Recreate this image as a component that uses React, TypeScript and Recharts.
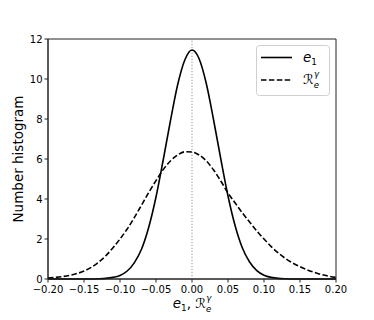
import { LineChart, Line, XAxis, YAxis, ReferenceLine, ReferenceArea, Legend } from 'recharts';

// x positions of the histogram curves
const xValues = [
  -0.2, -0.19, -0.18, -0.17, -0.16, -0.15, -0.14, -0.13, -0.12, -0.11,
  -0.1, -0.09, -0.08, -0.07, -0.06, -0.05, -0.04, -0.03, -0.02, -0.01,
  0,
  0.01, 0.02, 0.03, 0.04, 0.05, 0.06, 0.07, 0.08, 0.09, 0.1,
  0.11, 0.12, 0.13, 0.14, 0.15, 0.16, 0.17, 0.18, 0.19, 0.2,
];

// e_1 (solid)
const e1Values = [
  0, 0, 0, 0, 0, 0, 0, 0.01, 0.03, 0.08,
  0.18, 0.4, 0.82, 1.5, 2.6, 4.1, 5.95, 7.9, 9.7, 10.95,
  11.45,
  11.0, 9.75, 7.95, 6.0, 4.15, 2.65, 1.55, 0.85, 0.42, 0.19,
  0.08, 0.03, 0.01, 0, 0, 0, 0, 0, 0, 0,
];

// R_e^gamma (dashed)
const reValues = [
  0.05, 0.08, 0.12, 0.18, 0.27, 0.4, 0.58, 0.83, 1.15, 1.55,
  2.0, 2.5, 3.08, 3.7, 4.33, 4.92, 5.47, 5.9, 6.2, 6.36,
  6.35,
  6.2, 5.9, 5.45, 4.9, 4.3, 3.8, 3.3, 2.85, 2.4, 2.0,
  1.62, 1.3, 1.02, 0.8, 0.62, 0.46, 0.33, 0.22, 0.14, 0.08,
];

const xTicks = [-0.2, -0.15, -0.1, -0.05, 0, 0.05, 0.1, 0.15, 0.2];
const yTicks = [0, 2, 4, 6, 8, 10, 12];

const data = xValues.map((x, i) => ({ x, e1: e1Values[i], re: reValues[i] }));

const FONT = '"DejaVu Sans", sans-serif';
const fmtX = (v: number) => (v < 0 ? '\u2212' : '') + Math.abs(v).toFixed(2);

// e_1 and R_e^gamma written out like matplotlib mathtext
function MathE1({ size }: { size: number }) {
  return (
    <>
      <tspan fontStyle="italic">e</tspan>
      <tspan fontSize={size * 0.66} dy={3}>1</tspan>
    </>
  );
}

function MathRe({ size }: { size: number }) {
  const s = size * 0.63;
  return (
    <>
      <tspan>ℛ</tspan>
      <tspan fontStyle="italic" fontSize={s} dy={3.5}>e</tspan>
      <tspan fontStyle="italic" fontSize={s} dx={-s * 0.6} dy={-11}>γ</tspan>
    </>
  );
}

function MathLegend() {
  return (
    <svg width={75} height={52} style={{ display: 'block' }}>
      <rect x={0.5} y={0.5} width={73} height={50} rx={3} fill="#fff" fillOpacity={0.8} stroke="#d0d0d0" />
      <line x1={5} x2={36} y1={12.5} y2={12.5} stroke="#000" strokeWidth={1.6} />
      <line x1={5} x2={36} y1={35} y2={35} stroke="#000" strokeWidth={1.6} strokeDasharray="5.5 2.4" />
      <text x={47} y={17} fontFamily={FONT} fontSize={13.5} fill="#000">
        <MathE1 size={13.5} />
      </text>
      <text x={47} y={39} fontFamily={FONT} fontSize={13.5} fill="#000">
        <MathRe size={13.5} />
      </text>
    </svg>
  );
}

export default function App() {
  return (
    <div style={{ position: 'absolute', left: 0, top: 0, background: '#fff' }}>
      <LineChart width={374} height={320} data={data} margin={{ top: 39, right: 38, bottom: 0, left: 0 }}>
        <ReferenceArea x1={-0.2} x2={0.2} y1={0} y2={12} fill="none" stroke="#222" strokeWidth={1} />
        <ReferenceLine x={0} stroke="#aaa" strokeDasharray="1.2 1.8" strokeWidth={1.2} />
        <XAxis
          dataKey="x"
          type="number"
          domain={[-0.2, 0.2]}
          ticks={xTicks}
          tickFormatter={fmtX}
          interval={0}
          height={41}
          tickSize={3.5}
          tickMargin={3}
          stroke="#222"
          tick={{ fill: '#000', fontSize: 10, fontFamily: FONT }}
          label={({ viewBox }: any) => (
            <text
              x={viewBox.x + viewBox.width / 2}
              y={viewBox.y + 29}
              textAnchor="middle"
              fontFamily={FONT}
              fontSize={13.5}
              fill="#000"
            >
              <MathE1 size={13.5} />
              <tspan dy={-3}>, </tspan>
              <MathRe size={13.5} />
            </text>
          )}
        />
        <YAxis
          type="number"
          domain={[0, 12]}
          ticks={yTicks}
          interval={0}
          width={48}
          tickSize={3.5}
          tickMargin={2}
          stroke="#222"
          tick={{ fill: '#000', fontSize: 10, fontFamily: FONT }}
          label={({ viewBox }: any) => (
            <text
              transform={`translate(${viewBox.x + 17.5},${viewBox.y + viewBox.height / 2}) rotate(-90)`}
              textAnchor="middle"
              dominantBaseline="central"
              fontFamily={FONT}
              fontSize={13.5}
              fill="#000"
            >
              Number histogram
            </text>
          )}
        />
        <Line
          type="monotone"
          dataKey="e1"
          name="e1"
          stroke="#000"
          strokeWidth={1.6}
          dot={false}
          isAnimationActive={false}
        />
        <Line
          type="monotone"
          dataKey="re"
          name="Re"
          stroke="#000"
          strokeWidth={1.6}
          strokeDasharray="5.5 2.4"
          dot={false}
          isAnimationActive={false}
        />
        <Legend
          layout="horizontal"
          verticalAlign="middle"
          align="center"
          content={() => <MathLegend />}
          wrapperStyle={{ position: 'absolute', left: 256, top: 45, width: 75, height: 52 }}
        />
      </LineChart>
    </div>
  );
}
